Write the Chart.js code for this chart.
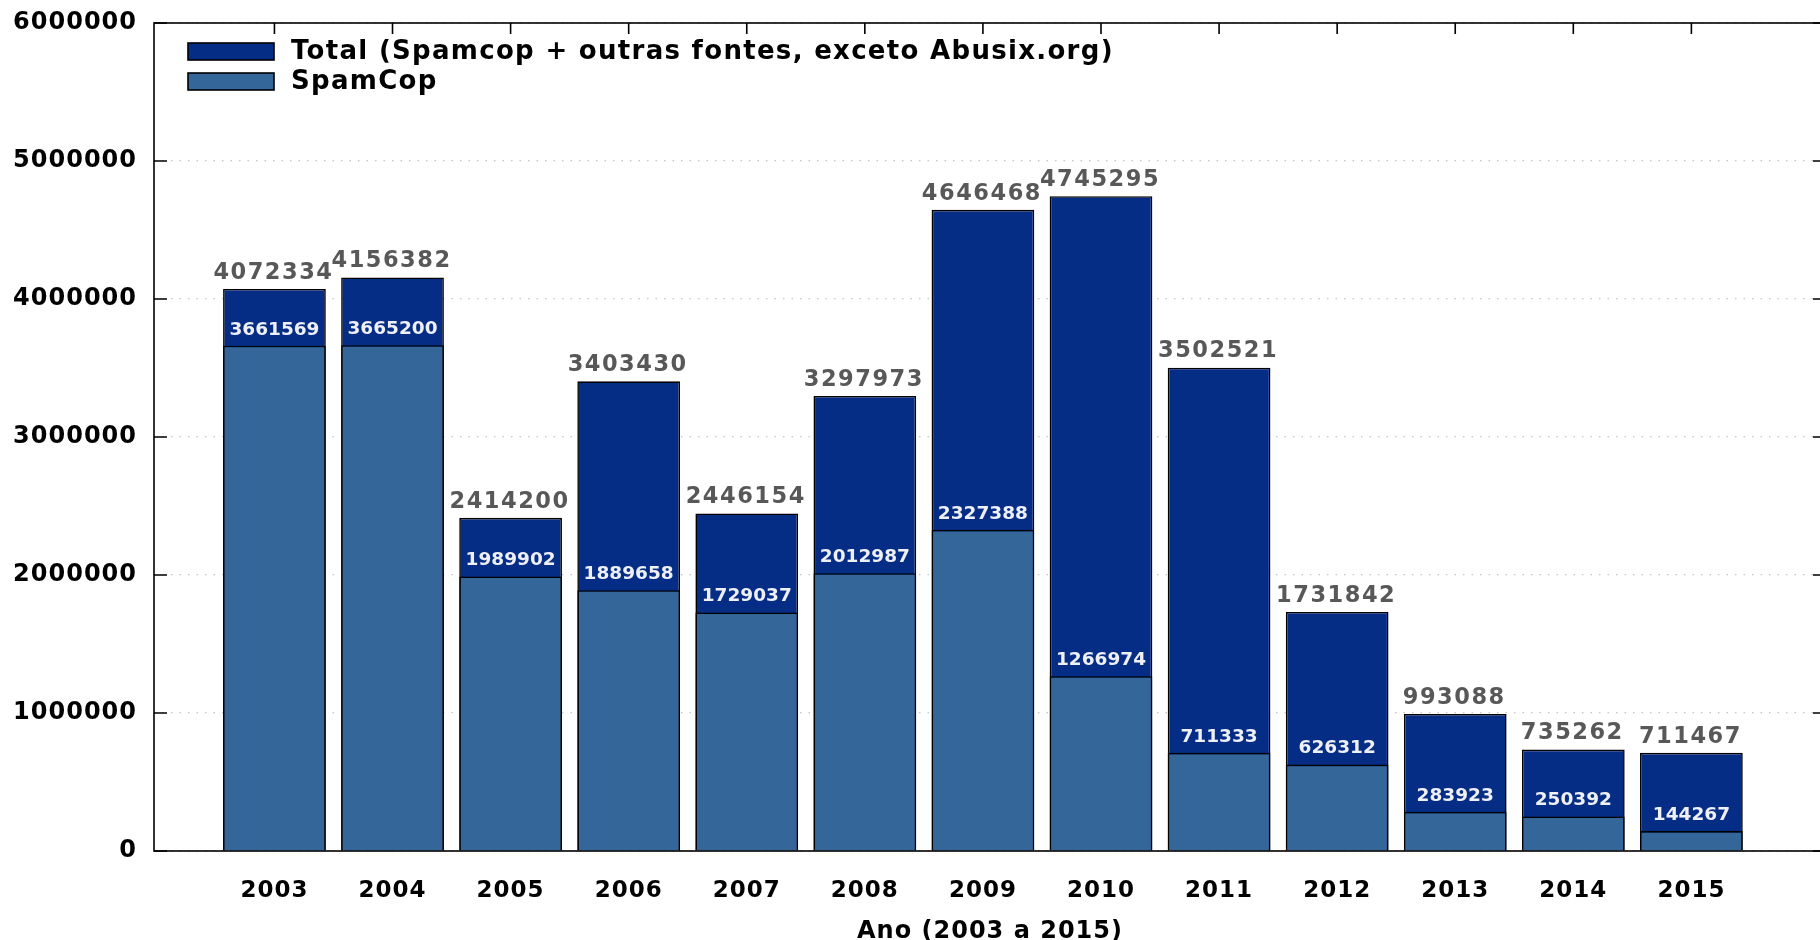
<!DOCTYPE html>
<html>
<head>
<meta charset="utf-8">
<script src="https://cdn.jsdelivr.net/npm/chart.js@4.4.1/dist/chart.umd.min.js"></script>
<style>
  html, body { margin: 0; padding: 0; background: #fff; overflow: hidden; }
  #wrap { position: relative; width: 1826px; height: 940px; }
</style>
</head>
<body>
<div id="wrap"><canvas id="chart"></canvas></div>
<script>
const years = [2003, 2004, 2005, 2006, 2007, 2008, 2009, 2010, 2011, 2012, 2013, 2014, 2015];
const totalValues = [4072334, 4156382, 2414200, 3403430, 2446154, 3297973, 4646468, 4745295, 3502521, 1731842, 993088, 735262, 711467];
const spamcopValues = [3661569, 3665200, 1989902, 1889658, 1729037, 2012987, 2327388, 1266974, 711333, 626312, 283923, 250392, 144267];
const yTicks = [0, 1000000, 2000000, 3000000, 4000000, 5000000, 6000000];

const FONT = "'DejaVu Sans', Verdana, sans-serif";
const totalColor = "#062d86";
const spamcopColor = "#346699";

// border, mirrored ticks, value labels and the legend drawn inside the plot
const framePlugin = {
  id: "frame",
  beforeDraw(chart) {
    chart.ctx.letterSpacing = "1px";
  },
  afterDatasetsDraw(chart) {
    const ctx = chart.ctx;
    const { left, right, top, bottom } = chart.chartArea;
    const x = chart.scales.x;
    const y = chart.scales.y;

    ctx.save();
    ctx.strokeStyle = "#000";
    ctx.lineWidth = 1.6;
    ctx.strokeRect(left, top, right - left, bottom - top);
    ctx.beginPath();
    yTicks.forEach(v => {
      const py = y.getPixelForValue(v);
      ctx.moveTo(left, py); ctx.lineTo(left + 13, py);
      ctx.moveTo(right, py); ctx.lineTo(right - 13, py);
    });
    years.forEach(v => {
      const px = x.getPixelForValue(v);
      ctx.moveTo(px, top); ctx.lineTo(px, top + 11);
    });
    ctx.stroke();

    // value labels
    const totalMeta = chart.getDatasetMeta(0);
    const spamMeta = chart.getDatasetMeta(1);
    ctx.textAlign = "center";
    ctx.textBaseline = "middle";
    ctx.letterSpacing = "1.5px";
    ctx.font = "bold 22.5px " + FONT;
    ctx.fillStyle = "#585858";
    totalMeta.data.forEach((bar, i) => {
      ctx.fillText(String(totalValues[i]), bar.x - 1, bar.y - 16);
    });
    ctx.letterSpacing = "0px";
    ctx.font = "bold 18.5px " + FONT;
    ctx.fillStyle = "#eef0f6";
    spamMeta.data.forEach((bar, i) => {
      ctx.fillText(String(spamcopValues[i]), bar.x, bar.y - 16);
    });

    // legend
    ctx.letterSpacing = "1.3px";
    ctx.font = "bold 26px " + FONT;
    ctx.textAlign = "left";
    chart.data.datasets.forEach((ds, i) => {
      const by = 43 + i * 30;
      ctx.fillStyle = ds.backgroundColor;
      ctx.fillRect(188, by, 86, 17);
      ctx.strokeRect(188, by, 86, 17);
      ctx.fillStyle = "#000";
      ctx.fillText(ds.label, 291, by + 9);
    });
    ctx.restore();
  }
};

new Chart(document.getElementById("chart"), {
  type: "bar",
  data: {
    datasets: [
      {
        label: "Total (Spamcop + outras fontes, exceto Abusix.org)",
        data: years.map((yr, i) => ({ x: yr, y: totalValues[i] })),
        backgroundColor: totalColor,
        borderColor: "#000",
        borderWidth: 1.6,
        grouped: false,
        order: 2
      },
      {
        label: "SpamCop",
        data: years.map((yr, i) => ({ x: yr, y: spamcopValues[i] })),
        backgroundColor: spamcopColor,
        borderColor: "#000",
        borderWidth: 1.6,
        grouped: false,
        order: 1
      }
    ]
  },
  options: {
    responsive: true,
    maintainAspectRatio: false,
    animation: false,
    categoryPercentage: 1,
    barPercentage: 0.87,
    layout: { padding: { top: 23, left: 0, right: 0, bottom: 0 } },
    plugins: {
      legend: { display: false },
      tooltip: { enabled: false }
    },
    scales: {
      x: {
        type: "linear",
        min: 2001.98,
        max: 2016.14,
        offset: false,
        grid: { display: false, offset: false },
        border: { display: false },
        afterBuildTicks: scale => { scale.ticks = years.map(v => ({ value: v })); },
        afterFit: scale => { scale.height = 89; },
        ticks: {
          autoSkip: false,
          maxRotation: 0,
          padding: 18,
          color: "#000",
          font: { family: FONT, size: 23, weight: "bold" },
          callback: v => String(v)
        },
        title: {
          display: true,
          text: "Ano (2003 a 2015)",
          color: "#000",
          font: { family: FONT, size: 24, weight: "bold", lineHeight: 1 },
          padding: { top: 0, bottom: -3.5 }
        }
      },
      y: {
        min: 0,
        max: 6000000,
        afterBuildTicks: scale => { scale.ticks = yTicks.map(v => ({ value: v })); },
        afterFit: scale => {
          scale.width = 154;
          scale.paddingTop = 0;
          scale.paddingBottom = 0;
        },
        grid: { color: "#c4c4c4", lineWidth: 1.2, drawTicks: false },
        border: { display: false, dash: [1.5, 7] },
        ticks: {
          padding: 17,
          color: "#000",
          font: { family: FONT, size: 24, weight: "bold" },
          callback: v => String(v)
        }
      }
    }
  },
  plugins: [framePlugin]
});
</script>
</body>
</html>
